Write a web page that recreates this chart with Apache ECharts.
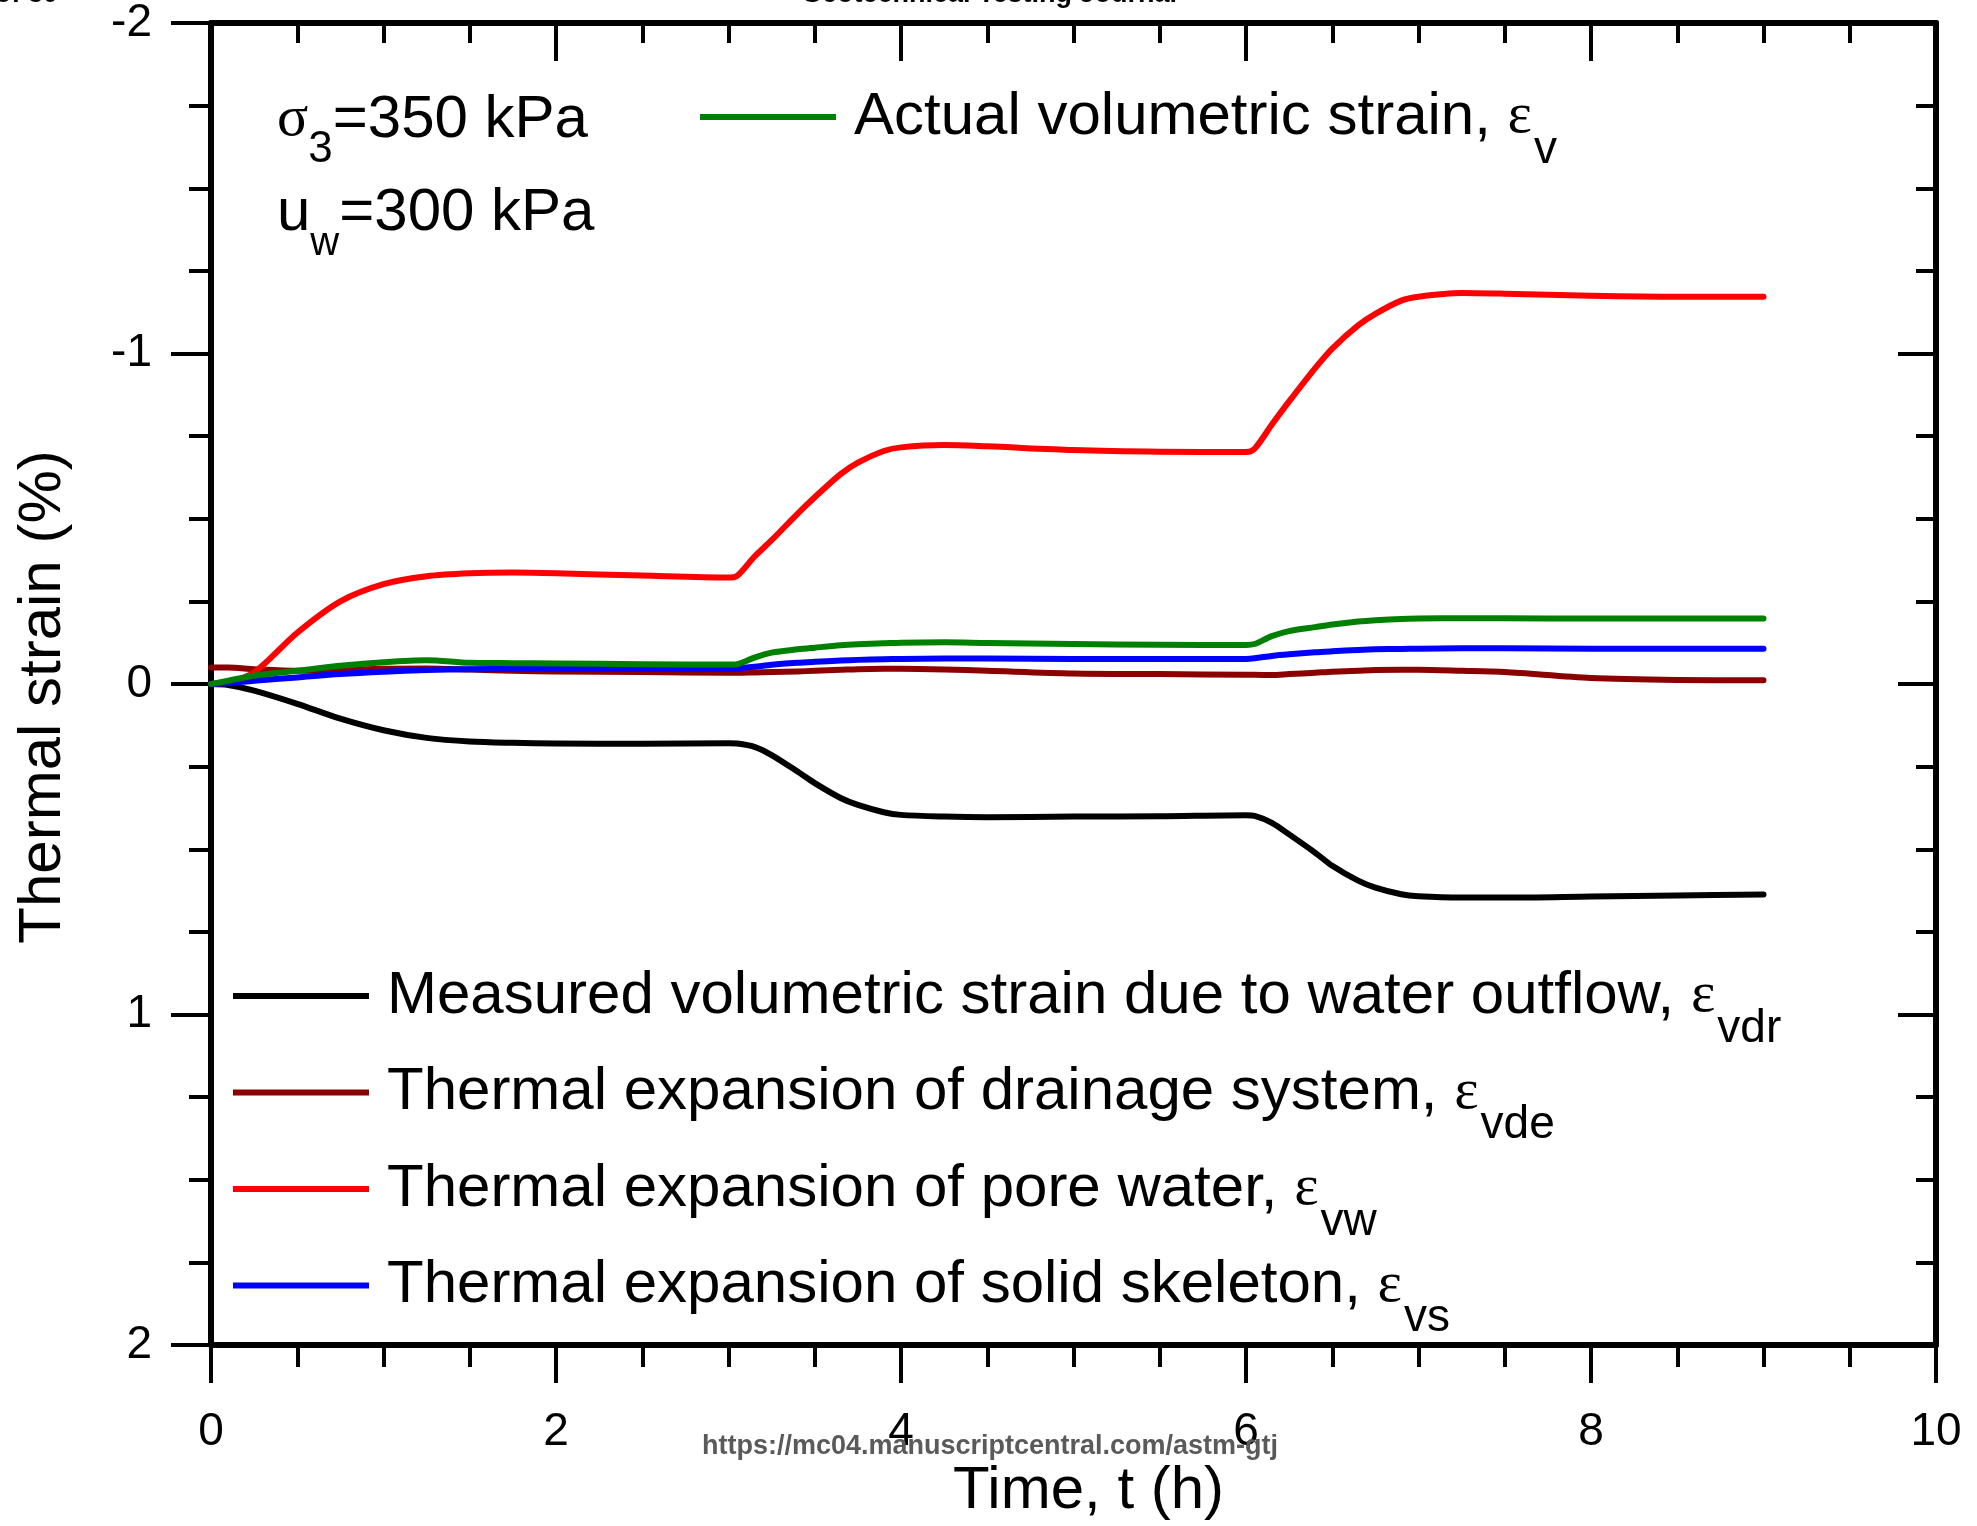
<!DOCTYPE html>
<html>
<head>
<meta charset="utf-8">
<script src="https://cdn.jsdelivr.net/npm/echarts@6/dist/echarts.min.js"></script>
<style>
html,body{margin:0;padding:0;background:#fff;}
#chart{width:1977px;height:1526px;}
</style>
</head>
<body>
<div id="chart"></div>
<script>
// ---- data (time in h, strain in %) ----
const time = [0, 0.1, 0.25, 0.5, 0.75, 1, 1.25, 1.5, 1.75, 2, 2.5, 3, 3.05, 3.15, 3.25, 3.4, 3.5, 3.65, 3.75, 3.9, 4, 4.25, 4.5, 5, 5.5, 6, 6.05, 6.15, 6.25, 6.4, 6.5, 6.65, 6.75, 6.9, 7, 7.25, 7.5, 8, 8.5, 9];
const measuredVdr = [0, 0.003, 0.02, 0.06, 0.105, 0.14, 0.163, 0.174, 0.178, 0.18, 0.181, 0.179, 0.18, 0.19, 0.215, 0.265, 0.3, 0.345, 0.366, 0.388, 0.396, 0.401, 0.403, 0.401, 0.4, 0.397, 0.399, 0.42, 0.455, 0.51, 0.55, 0.595, 0.616, 0.636, 0.642, 0.646, 0.646, 0.643, 0.64, 0.637];
const drainageVde = [-0.05, -0.05, -0.045, -0.04, -0.042, -0.046, -0.047, -0.044, -0.04, -0.038, -0.036, -0.034, -0.034, -0.035, -0.036, -0.038, -0.04, -0.043, -0.045, -0.046, -0.046, -0.044, -0.04, -0.032, -0.03, -0.028, -0.028, -0.027, -0.03, -0.034, -0.037, -0.04, -0.042, -0.043, -0.043, -0.04, -0.036, -0.018, -0.012, -0.011];
const poreWaterVw = [0, -0.005, -0.035, -0.155, -0.25, -0.302, -0.326, -0.335, -0.337, -0.335, -0.328, -0.322, -0.327, -0.385, -0.435, -0.515, -0.565, -0.635, -0.67, -0.705, -0.716, -0.723, -0.719, -0.708, -0.703, -0.702, -0.712, -0.785, -0.855, -0.955, -1.015, -1.085, -1.12, -1.16, -1.172, -1.183, -1.181, -1.175, -1.172, -1.172];
const skeletonVs = [0, -0.003, -0.01, -0.02, -0.03, -0.037, -0.042, -0.045, -0.046, -0.046, -0.046, -0.046, -0.047, -0.052, -0.058, -0.064, -0.067, -0.071, -0.073, -0.075, -0.076, -0.077, -0.077, -0.076, -0.076, -0.076, -0.078, -0.085, -0.09, -0.096, -0.099, -0.103, -0.105, -0.106, -0.107, -0.108, -0.108, -0.107, -0.107, -0.107];
const actualV = [0, -0.01, -0.025, -0.04, -0.055, -0.066, -0.072, -0.064, -0.063, -0.062, -0.06, -0.059, -0.06, -0.08, -0.095, -0.105, -0.11, -0.117, -0.12, -0.123, -0.125, -0.126, -0.124, -0.121, -0.119, -0.118, -0.121, -0.145, -0.16, -0.172, -0.18, -0.189, -0.193, -0.197, -0.198, -0.199, -0.199, -0.198, -0.198, -0.198];

const seriesNames = [
  'Measured volumetric strain due to water outflow',
  'Thermal expansion of drainage system',
  'Thermal expansion of pore water',
  'Thermal expansion of solid skeleton',
  'Actual volumetric strain'
];
const seriesSubs = ['vdr', 'vde', 'vw', 'vs', 'v'];
const seriesColors = ['#000000', '#8b0000', '#ff0000', '#0000ff', '#008000'];
const seriesValues = [measuredVdr, drainageVde, poreWaterVw, skeletonVs, actualV];

const xTicks = {min: 0, max: 10, interval: 2};
const yTicks = {min: -2, max: 2, interval: 1};

const FONT = "'Liberation Sans', Arial, sans-serif";
const SERIF = "'Liberation Serif', 'Times New Roman', serif";

const subMap = {};
seriesNames.forEach((n, i) => subMap[n] = seriesSubs[i]);

const series = seriesNames.map((name, i) => ({
  name: name,
  type: 'line',
  data: time.map((t, k) => [t, seriesValues[i][k]]),
  showSymbol: false,
  symbol: 'none',
  smooth: 0.3,
  lineStyle: {color: seriesColors[i], width: 6, cap: 'round', join: 'round'},
  itemStyle: {color: seriesColors[i]},
  z: 3
}));

const legendRich = {
  m: {fontSize: 60, fontFamily: FONT, color: '#000', lineHeight: 86, padding: [0, 0, 0, 13]},
  e: {fontSize: 58, fontFamily: SERIF, color: '#000', lineHeight: 86},
  s: {fontSize: 46, fontFamily: FONT, color: '#000', lineHeight: 86, padding: [66, 0, 0, 2]}
};
const legendFormatter = name => '{m|' + name + ', }{e|ε}{s|' + subMap[name] + '}';

const axisLineStyle = {color: '#000', width: 6};
const tickLine = {color: '#000', width: 4};

const chart = echarts.init(document.getElementById('chart'), null, {renderer: 'canvas'});
chart.setOption({
  animation: false,
  backgroundColor: '#ffffff',
  grid: {left: 211, right: 41, top: 15, bottom: 179, containLabel: false},
  xAxis: [
    {
      type: 'value', position: 'bottom', min: xTicks.min, max: xTicks.max, interval: xTicks.interval,
      axisLine: {show: true, onZero: false, lineStyle: axisLineStyle},
      axisTick: {show: true, inside: false, length: 38, lineStyle: tickLine},
      minorTick: {show: true, splitNumber: 4, length: 22, lineStyle: tickLine},
      splitLine: {show: false},
      axisLabel: {fontSize: 46, fontFamily: FONT, color: '#000', margin: 64},
      name: 'Time, t (h)', nameLocation: 'middle', nameGap: 116,
      nameTextStyle: {fontSize: 60, fontFamily: FONT, color: '#000', padding: [0, 0, 0, 30]}
    },
    {
      type: 'value', position: 'top', min: xTicks.min, max: xTicks.max, interval: xTicks.interval,
      axisLine: {show: true, onZero: false, lineStyle: axisLineStyle},
      axisTick: {show: true, inside: true, length: 38, lineStyle: tickLine},
      minorTick: {show: true, splitNumber: 4, length: 20, lineStyle: tickLine},
      splitLine: {show: false},
      axisLabel: {show: false}
    }
  ],
  yAxis: [
    {
      type: 'value', position: 'left', inverse: true, min: yTicks.min, max: yTicks.max, interval: yTicks.interval,
      axisLine: {show: true, onZero: false, lineStyle: axisLineStyle},
      axisTick: {show: true, inside: false, length: 40, lineStyle: tickLine},
      minorTick: {show: true, splitNumber: 4, length: 22, lineStyle: tickLine},
      splitLine: {show: false},
      axisLabel: {fontSize: 46, fontFamily: FONT, color: '#000', margin: 59},
      name: 'Thermal strain (%)', nameLocation: 'middle', nameGap: 138,
      nameTextStyle: {fontSize: 60, fontFamily: FONT, color: '#000', padding: [0, 26, 0, 0]}
    },
    {
      type: 'value', position: 'right', inverse: true, min: yTicks.min, max: yTicks.max, interval: yTicks.interval,
      axisLine: {show: true, onZero: false, lineStyle: axisLineStyle},
      axisTick: {show: true, inside: true, length: 38, lineStyle: tickLine},
      minorTick: {show: true, splitNumber: 4, length: 20, lineStyle: tickLine},
      splitLine: {show: false},
      axisLabel: {show: false}
    }
  ],
  legend: [
    {
      data: [seriesNames[4]],
      left: 700, top: 61, padding: 0,
      orient: 'horizontal',
      icon: 'rect', itemWidth: 136, itemHeight: 6,
      selectedMode: false,
      formatter: legendFormatter,
      textStyle: {rich: legendRich}
    },
    {
      data: seriesNames.slice(0, 4),
      left: 233, top: 940, padding: 0,
      orient: 'vertical', itemGap: -15.5,
      icon: 'rect', itemWidth: 136, itemHeight: 6,
      selectedMode: false,
      formatter: legendFormatter,
      textStyle: {rich: legendRich}
    }
  ],
  graphic: [
    {
      type: 'text', x: 277, y: 120, z: 10,
      style: {
        text: '{g|σ}{s|3}{m|=350 kPa}',
        verticalAlign: 'middle', align: 'left',
        rich: {
          g: {fontSize: 58, fontFamily: SERIF, fill: '#000', color: '#000', lineHeight: 80},
          s: {fontSize: 44, fontFamily: FONT, fill: '#000', color: '#000', lineHeight: 80, padding: [60, 0, 0, 0]},
          m: {fontSize: 60, fontFamily: FONT, fill: '#000', color: '#000', lineHeight: 80}
        }
      }
    },
    {
      type: 'text', x: 277, y: 213, z: 10,
      style: {
        text: '{g|u}{s|w}{m|=300 kPa}',
        verticalAlign: 'middle', align: 'left',
        rich: {
          g: {fontSize: 60, fontFamily: FONT, fill: '#000', color: '#000', lineHeight: 80},
          s: {fontSize: 40, fontFamily: FONT, fill: '#000', color: '#000', lineHeight: 80, padding: [62, 0, 0, 0]},
          m: {fontSize: 60, fontFamily: FONT, fill: '#000', color: '#000', lineHeight: 80}
        }
      }
    },
    {
      type: 'text', x: 989, y: 8, z: 10,
      style: {text: 'Geotechnical Testing Journal', font: "bold 27px 'Liberation Sans', Arial, sans-serif", fill: '#000', align: 'center', verticalAlign: 'bottom'}
    },
    {
      type: 'text', x: 58, y: 8, z: 10,
      style: {text: 'of 30', font: "bold 27px 'Liberation Sans', Arial, sans-serif", fill: '#000', align: 'right', verticalAlign: 'bottom'}
    },
    {
      type: 'text', x: 990, y: 1447, z: 20,
      style: {text: 'https://mc04.manuscriptcentral.com/astm-gtj', font: "bold 27px 'Liberation Sans', Arial, sans-serif", fill: '#5a5a5a', align: 'center', verticalAlign: 'middle'}
    }
  ],
  series: series
});
</script>
</body>
</html>
